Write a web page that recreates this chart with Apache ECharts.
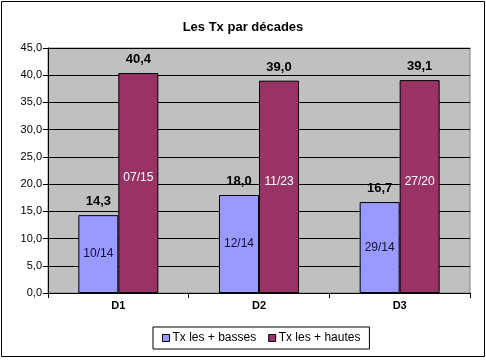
<!DOCTYPE html>
<html>
<head>
<meta charset="utf-8">
<script src="https://cdn.jsdelivr.net/npm/echarts@6/dist/echarts.min.js"></script>
<style>html,body{margin:0;padding:0;background:#fff}#c{width:486px;height:360px}</style>
</head>
<body>
<div id="c"></div>
<script>
const categories = ['D1', 'D2', 'D3'];
const seriesNames = ['Tx les + basses', 'Tx les + hautes'];
const basses = [14.3, 18.0, 16.7];
const hautes = [40.4, 39.0, 39.1];
const bassesDates = ['10/14', '12/14', '29/14'];
const hautesDates = ['07/15', '11/23', '27/20'];
const yTicks = { min: 0, max: 45, interval: 5 };

const FONT = 'Liberation Sans, Arial, sans-serif';
const fmt = v => v.toFixed(1).replace('.', ',');
const chart = echarts.init(document.getElementById('c'), null, { renderer: 'canvas' });

function dateSeries(name, values, dates, color, textColor, offset) {
  return {
    name: name, type: 'bar', xAxisIndex: 0,
    data: values, barWidth: 40, barGap: '0%',
    itemStyle: { color: color, borderColor: '#000', borderWidth: 1 },
    label: { show: true, position: 'inside', offset: offset, color: textColor,
      fontFamily: FONT, fontSize: 12, formatter: p => dates[p.dataIndex] },
    emphasis: { disabled: true }, animation: false
  };
}
function valueSeries(name, values) {
  return {
    name: name, type: 'bar', xAxisIndex: 1,
    data: values, barWidth: 40, barGap: '0%',
    itemStyle: { color: 'transparent', borderWidth: 0 },
    label: { show: true, position: 'top', distance: 7, color: '#000',
      fontFamily: FONT, fontSize: 13, fontWeight: 'bold', formatter: p => fmt(p.value) },
    emphasis: { disabled: true }, animation: false, silent: true
  };
}

chart.setOption({
  backgroundColor: '#fff',
  animation: false,
  title: { text: 'Les Tx par décades', left: 'center', top: 16,
    textStyle: { fontFamily: FONT, fontSize: 13, fontWeight: 'bold', color: '#000' } },
  grid: { left: 48, right: 16, top: 48, bottom: 67, show: true,
    backgroundColor: '#C0C0C0', borderColor: '#808080', borderWidth: 1 },
  legend: {
    data: seriesNames, left: 153, top: 327, width: 214,
    borderColor: '#000', borderWidth: 1, padding: [5, 9, 5, 9],
    itemWidth: 7, itemHeight: 7, itemGap: 12, icon: 'rect',
    itemStyle: { borderColor: '#000', borderWidth: 1 },
    textStyle: { fontFamily: FONT, fontSize: 12, color: '#000', padding: [0, 0, 0, -2] }
  },
  xAxis: [
    { type: 'category', data: categories,
      axisLine: { lineStyle: { color: '#000', width: 1 } },
      axisTick: { show: true, length: 5, lineStyle: { color: '#000' } },
      axisLabel: { fontFamily: FONT, fontSize: 11, fontWeight: 'bold', color: '#000', margin: 7 } },
    { type: 'category', data: categories, show: false, position: 'bottom' }
  ],
  yAxis: {
    type: 'value', min: yTicks.min, max: yTicks.max, interval: yTicks.interval,
    axisLine: { show: true, lineStyle: { color: '#000', width: 1 } },
    axisTick: { show: true, length: 5, lineStyle: { color: '#000' } },
    splitLine: { show: true, lineStyle: { color: '#000', width: 1 } },
    axisLabel: { fontFamily: FONT, fontSize: 11, color: '#000', margin: 6, formatter: v => fmt(v) }
  },
  series: [
    dateSeries(seriesNames[0], basses, bassesDates, '#9999FF', '#111133', [0, 0]),
    dateSeries(seriesNames[1], hautes, hautesDates, '#993366', '#fff', [0, -5]),
    valueSeries(seriesNames[0], basses),
    valueSeries(seriesNames[1], hautes)
  ],
  graphic: [{ type: 'rect', shape: { x: 1.5, y: 1.5, width: 483, height: 355 },
    style: { fill: 'none', stroke: '#000', lineWidth: 1 }, silent: true }]
});
</script>
</body>
</html>
